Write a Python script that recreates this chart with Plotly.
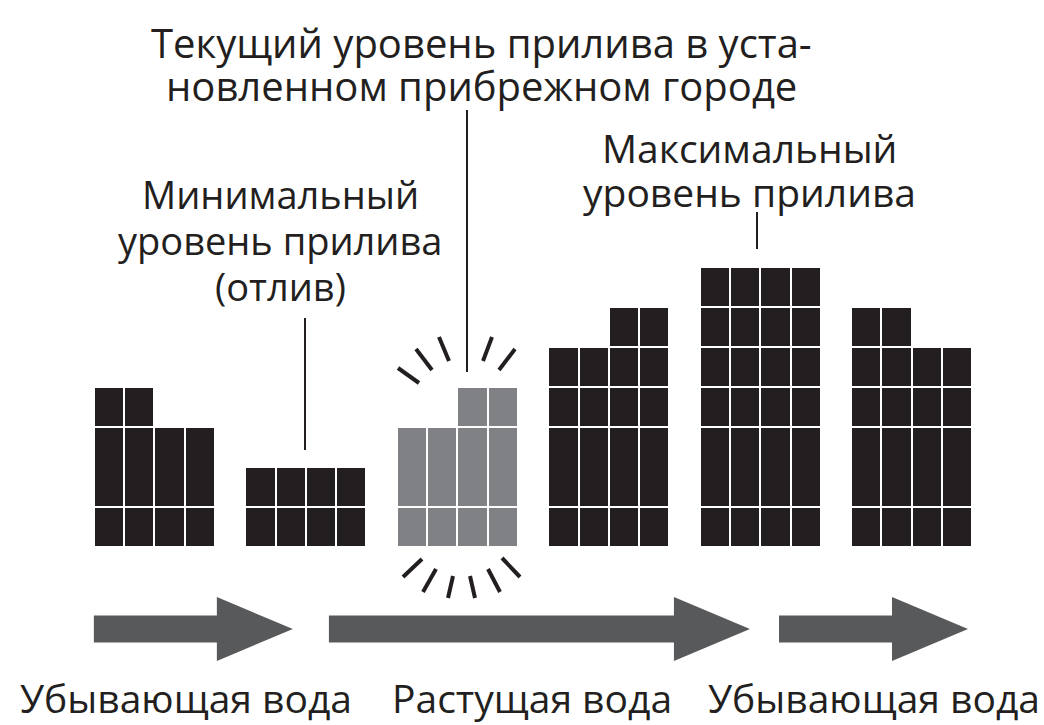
import plotly.graph_objects as go

# cells per column, 4 columns per group, left to right
COLUMN_HEIGHTS = [
    [4, 4, 3, 3],
    [2, 2, 2, 2],
    [3, 3, 4, 4],
    [5, 5, 6, 6],
    [7, 7, 7, 7],
    [6, 6, 5, 5],
]
CURRENT_GROUP = 2

TITLE_LINES = ["Текущий уровень прилива в уста-", "новленном прибрежном городе"]
LOW_LINES = ["Минимальный", "уровень прилива", "(отлив)"]
HIGH_LINES = ["Максимальный", "уровень прилива"]
PHASE_LABELS = ["Убывающая вода", "Растущая вода", "Убывающая вода"]

# arrows, in column units
ARROW_START = [-0.5, 7.26, 22.12]
ARROW_END = [6.07, 21.16, 28.36]

BLACK = "#231f20"
GRAY = "#808184"
ARROW = "#58595b"
FONT = "Open Sans"

W, H = 1044, 725
X0, XU = 109.0, 30.29   # pixel of column 0, pixels per column
Y0, YU = 546.5, 40.0    # pixel of baseline, pixels per cell


def dx(p):
    return (p - X0) / XU


def dy(p):
    return (Y0 - p) / YU


xs, hs, colors = [], [], []
for g, group in enumerate(COLUMN_HEIGHTS):
    for c, h in enumerate(group):
        xs.append(g * 5 + c)
        hs.append(h)
        colors.append(GRAY if g == CURRENT_GROUP else BLACK)

# split each column into cells: 1, then a double cell, then singles
layers = [[1 for h in hs]]
layers.append([(2 if h >= 3 else 1) if h >= 2 else None for h in hs])
for k in range(4, max(hs) + 1):
    layers.append([1 if h >= k else None for h in hs])

fig = go.Figure()
for layer in layers:
    fig.add_trace(
        go.Bar(
            x=xs,
            y=layer,
            width=1.0,
            marker=dict(color=colors, line=dict(color="white", width=2)),
            showlegend=False,
            hoverinfo="skip",
        )
    )

# arrows
ay, shaft, head, head_len = dy(629), 0.34, 0.8, 76 / XU
for s, e in zip(ARROW_START, ARROW_END):
    hx = e - head_len
    fig.add_trace(
        go.Scatter(
            x=[s, hx, hx, e, hx, hx, s, s],
            y=[ay + shaft, ay + shaft, ay + head, ay, ay - head, ay - shaft, ay - shaft, ay + shaft],
            mode="lines",
            fill="toself",
            fillcolor=ARROW,
            line=dict(width=0, color=ARROW),
            showlegend=False,
            hoverinfo="skip",
        )
    )

shapes = []
# leader lines
for x, y0, y1 in [(305, 318, 450), (467, 110, 372), (757, 212, 249)]:
    shapes.append(dict(type="line", x0=dx(x), x1=dx(x), y0=dy(y0), y1=dy(y1),
                       line=dict(color=BLACK, width=2)))
# flashes around the current level
rays = [
    (398, 368, 419, 383), (416, 349, 432, 370), (439, 337, 449, 361),
    (492, 337, 483, 361), (515, 349, 499, 370),
    (422, 559, 403, 577), (436, 569, 423, 592), (453, 576, 448, 598),
    (470, 576, 475, 598), (488, 569, 500, 592), (502, 558, 520, 577),
]
for x0, y0, x1, y1 in rays:
    shapes.append(dict(type="line", x0=dx(x0), x1=dx(x1), y0=dy(y0), y1=dy(y1),
                       line=dict(color=BLACK, width=4)))

annotations = []


def label(text, x, y, size=39):
    annotations.append(dict(
        text=text, x=dx(x), y=dy(y), xref="x", yref="y",
        xanchor="center", yanchor="middle", showarrow=False,
        font=dict(family=FONT, size=size, color=BLACK),
    ))


for i, t in enumerate(TITLE_LINES):
    label(t, 481, 42 + 43 * i, 40)
for i, t in enumerate(HIGH_LINES):
    label(t, 749, 147 + 44 * i)
for i, t in enumerate(LOW_LINES):
    label(t, 280, 194 + 46 * i, 38)
for t, x in zip(PHASE_LABELS, [186, 532, 874]):
    label(t, x, 697)

fig.update_layout(
    width=W,
    height=H,
    margin=dict(l=0, r=0, t=0, b=0),
    paper_bgcolor="white",
    plot_bgcolor="white",
    barmode="stack",
    bargap=0,
    shapes=shapes,
    annotations=annotations,
    xaxis=dict(range=[dx(0), dx(W)], visible=False, fixedrange=True),
    yaxis=dict(range=[dy(H), dy(0)], visible=False, fixedrange=True),
)

# drop the page's default 8px body margin so the figure fills the window
fig.write_html(
    "out.html",
    config={"displayModeBar": False},
    post_script="document.body.style.margin = '0';",
)
